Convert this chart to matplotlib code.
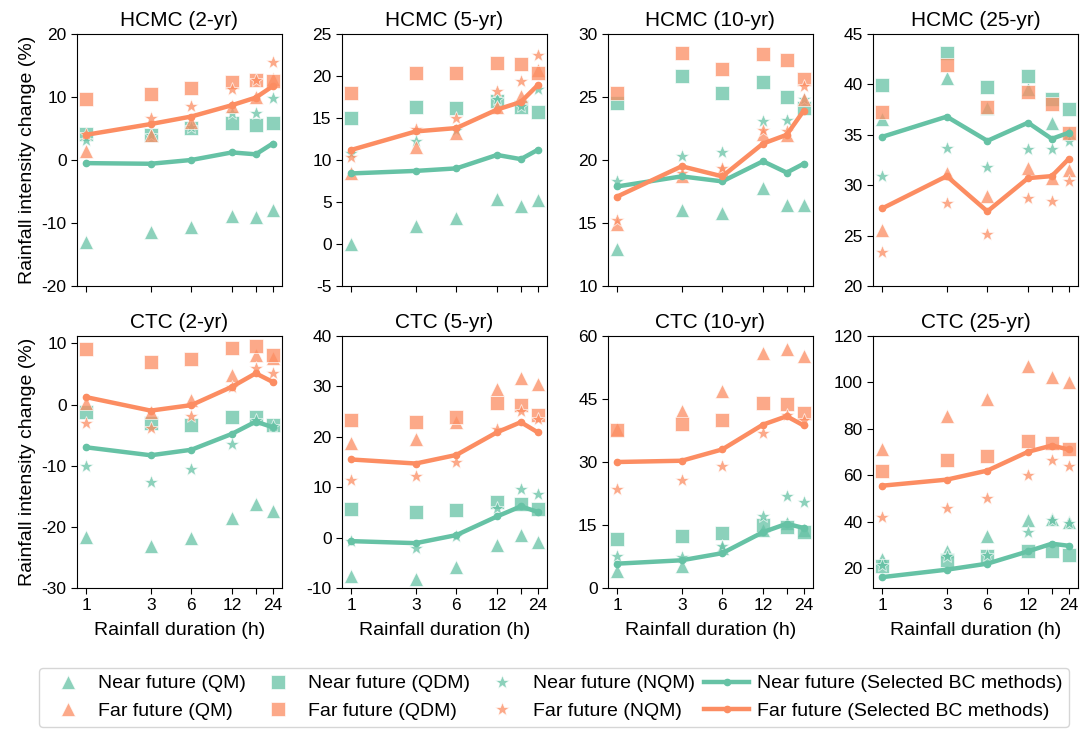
import matplotlib
matplotlib.use("Agg")
import matplotlib.pyplot as plt
from matplotlib.lines import Line2D

plt.rcParams["font.family"] = ["Liberation Sans", "DejaVu Sans"]

DURATIONS = [1, 3, 6, 12, 18, 24]
TICK_LABELS = ["1", "3", "6", "12", "", "24"]

TITLES = [
    "HCMC (2-yr)", "HCMC (5-yr)", "HCMC (10-yr)", "HCMC (25-yr)",
    "CTC (2-yr)", "CTC (5-yr)", "CTC (10-yr)", "CTC (25-yr)",
]

# per panel: (ymin, ymax, tick step)
Y_LIMITS = [
    (-20, 20, 10), (-5, 25, 5), (10, 30, 5), (20, 45, 5),
    (-30, 11.2, 10), (-10, 40, 10), (0, 60, 15), (11.4, 120, 20),
]
Y_TICK_START = [-20, -5, 10, 20, -30, -10, 0, 20]

NEAR_QM = [
    [-13.0, -11.5, -10.6, -8.9, -9.1, -8.0],
    [0.0, 2.2, 3.1, 5.3, 4.5, 5.2],
    [12.9, 16.0, 15.8, 17.8, 16.4, 16.4],
    [36.6, 40.6, 37.7, 39.5, 36.2, 35.2],
    [-21.6, -23.2, -21.8, -18.6, -16.3, -17.4],
    [-7.7, -8.3, -5.8, -1.4, 0.5, -0.9],
    [4.1, 5.2, 9.5, 13.9, 15.5, 13.9],
    [23.9, 27.5, 33.7, 40.6, 41.2, 39.9],
]
NEAR_QDM = [
    [4.2, 3.9, 5.0, 5.8, 5.5, 5.8],
    [15.0, 16.3, 16.2, 17.0, 16.3, 15.7],
    [24.5, 26.7, 25.3, 26.2, 25.0, 24.1],
    [39.9, 43.1, 39.7, 40.8, 38.5, 37.6],
    [-1.3, -3.1, -3.3, -2.1, -2.1, -3.3],
    [5.6, 5.0, 5.4, 7.0, 6.7, 5.6],
    [11.7, 12.5, 13.1, 15.1, 14.5, 13.3],
    [21.0, 23.6, 25.0, 27.5, 27.2, 25.8],
]
NEAR_NQM = [
    [3.1, 4.0, 5.3, 7.4, 7.4, 9.9],
    [10.8, 12.2, 13.6, 17.2, 16.4, 18.4],
    [18.3, 20.3, 20.6, 23.1, 23.2, 24.8],
    [30.9, 33.7, 31.8, 33.6, 33.6, 34.4],
    [-10.0, -12.6, -10.5, -6.4, -2.5, -3.5],
    [-0.7, -2.1, 0.4, 5.9, 9.7, 8.6],
    [7.7, 7.5, 9.9, 17.2, 21.8, 20.5],
    [21.4, 25.0, 25.8, 35.4, 40.9, 39.4],
]
NEAR_SEL = [
    [-0.5, -0.6, 0.0, 1.2, 0.9, 2.6],
    [8.4, 8.7, 9.0, 10.6, 10.1, 11.2],
    [17.9, 18.7, 18.3, 19.9, 19.0, 19.7],
    [34.8, 36.8, 34.4, 36.2, 34.6, 35.2],
    [-7.0, -8.3, -7.4, -4.8, -2.8, -3.7],
    [-0.7, -1.1, 0.5, 4.2, 6.2, 5.1],
    [5.8, 6.6, 8.3, 13.3, 15.3, 14.3],
    [16.1, 19.3, 21.9, 27.2, 30.5, 29.6],
]
FAR_QM = [
    [1.4, 4.0, 6.0, 8.5, 10.0, 12.8],
    [8.5, 11.6, 13.2, 16.3, 17.6, 20.7],
    [14.9, 18.7, 19.2, 22.1, 22.0, 24.8],
    [25.6, 31.2, 28.9, 31.7, 30.7, 31.5],
    [0.2, -1.2, 0.7, 4.8, 8.1, 7.6],
    [18.8, 19.5, 22.9, 29.4, 31.7, 30.4],
    [37.9, 42.1, 46.9, 55.9, 56.8, 55.2],
    [71.1, 85.5, 92.9, 107.1, 102.3, 100.1],
]
FAR_QDM = [
    [9.7, 10.4, 11.4, 12.4, 12.7, 12.6],
    [18.0, 20.4, 20.4, 21.5, 21.4, 20.4],
    [25.3, 28.5, 27.2, 28.4, 27.9, 26.4],
    [37.3, 41.9, 37.8, 39.2, 38.1, 35.2],
    [9.0, 7.0, 7.4, 9.2, 9.5, 8.1],
    [23.4, 22.9, 23.9, 26.8, 26.4, 24.4],
    [37.6, 39.1, 40.1, 44.1, 43.7, 41.7],
    [62.0, 66.5, 68.2, 74.7, 74.0, 71.5],
]
FAR_NQM = [
    [4.2, 6.6, 8.6, 11.2, 12.7, 15.6],
    [10.4, 13.7, 15.0, 18.2, 19.4, 22.5],
    [15.2, 19.0, 19.4, 22.4, 22.3, 25.9],
    [23.4, 28.2, 25.2, 28.7, 28.4, 30.4],
    [-3.1, -3.9, -1.9, 2.8, 5.9, 5.1],
    [11.5, 12.2, 15.0, 21.5, 25.1, 23.6],
    [23.6, 25.7, 29.0, 36.9, 41.3, 39.9],
    [41.9, 45.9, 50.2, 60.3, 66.5, 63.9],
]
FAR_SEL = [
    [4.0, 5.7, 6.9, 8.7, 9.9, 11.7],
    [11.2, 13.4, 13.8, 16.0, 16.9, 18.9],
    [17.1, 19.5, 18.7, 21.3, 22.0, 23.9],
    [27.7, 30.9, 27.4, 30.7, 30.9, 32.6],
    [1.2, -1.0, -0.1, 2.9, 5.1, 3.7],
    [15.5, 14.7, 16.4, 20.9, 22.9, 20.9],
    [30.0, 30.3, 33.0, 38.9, 40.9, 38.7],
    [55.5, 58.1, 62.0, 70.1, 72.8, 71.1],
]

GREEN = "#66c2a5"
ORANGE = "#fc8d62"

LEFTS = [0.0712, 0.3164, 0.5624, 0.8076]
BOTTOMS = [0.6077, 0.1934]
WIDTH, HEIGHT = 0.1896, 0.3457

fig = plt.figure(figsize=(10.81, 7.29), dpi=100)

MARKER_STYLE = dict(linestyle="None", alpha=0.75, markeredgecolor="white",
                    markeredgewidth=0.6)

for idx in range(8):
    row, col = divmod(idx, 4)
    ax = fig.add_axes([LEFTS[col], BOTTOMS[row], WIDTH, HEIGHT])
    for color, qm, qdm, nqm, sel in [
        (GREEN, NEAR_QM, NEAR_QDM, NEAR_NQM, NEAR_SEL),
        (ORANGE, FAR_QM, FAR_QDM, FAR_NQM, FAR_SEL),
    ]:
        ax.plot(DURATIONS, qm[idx], marker="^", markersize=10.5,
                color=color, **MARKER_STYLE)
        ax.plot(DURATIONS, qdm[idx], marker="s", markersize=9.5,
                color=color, **MARKER_STYLE)
        ax.plot(DURATIONS, nqm[idx], marker="*", markersize=10,
                color=color, **MARKER_STYLE)
        ax.plot(DURATIONS, sel[idx], marker="o", markersize=4.5,
                color=color, linewidth=3.2, zorder=4)

    ax.set_xscale("log")
    ax.set_xticks(DURATIONS)
    ax.minorticks_off()
    if row == 1:
        ax.set_xticklabels(TICK_LABELS)
        ax.set_xlabel("Rainfall duration (h)", fontsize=14, labelpad=6)
    else:
        ax.set_xticklabels([])
    ymin, ymax, step = Y_LIMITS[idx]
    ax.set_ylim(ymin, ymax)
    ticks = list(range(Y_TICK_START[idx], int(ymax) + 1, step))
    ax.set_yticks(ticks)
    ax.set_yticklabels([str(t) for t in ticks])
    if col == 0:
        ax.set_ylabel("Rainfall intensity change (%)", fontsize=14)
    ax.set_title(TITLES[idx], fontsize=15, pad=6)
    ax.tick_params(labelsize=12.5, direction="out", length=4, width=0.8)
    for spine in ax.spines.values():
        spine.set_linewidth(0.8)

def marker_handle(marker, color, size, label):
    return Line2D([0], [0], marker=marker, color=color, linestyle="None",
                  markersize=size, alpha=0.75, markeredgecolor="white",
                  markeredgewidth=0.6, label=label)

handles = [
    marker_handle("^", GREEN, 10.5, "Near future (QM)"),
    marker_handle("^", ORANGE, 10.5, "Far future (QM)"),
    marker_handle("s", GREEN, 9.5, "Near future (QDM)"),
    marker_handle("s", ORANGE, 9.5, "Far future (QDM)"),
    marker_handle("*", GREEN, 10, "Near future (NQM)"),
    marker_handle("*", ORANGE, 10, "Far future (NQM)"),
    Line2D([0], [0], color=GREEN, marker="o", markersize=4.5, linewidth=3.2,
           label="Near future (Selected BC methods)"),
    Line2D([0], [0], color=ORANGE, marker="o", markersize=4.5, linewidth=3.2,
           label="Far future (Selected BC methods)"),
]
fig.legend(handles=handles, loc="center", bbox_to_anchor=(0.5125, 0.0435),
           ncol=4, fontsize=14, frameon=True, handletextpad=0.4,
           columnspacing=0.5, handlelength=2.3, borderpad=0.35)

fig.savefig("out.png", dpi=100)
